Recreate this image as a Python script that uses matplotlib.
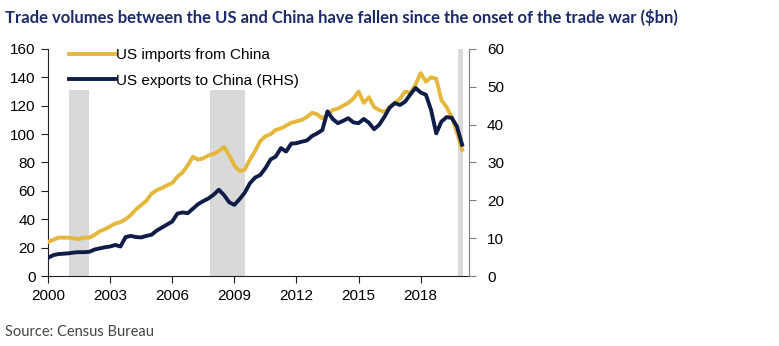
import numpy as np
import matplotlib
matplotlib.use("Agg")
import matplotlib.pyplot as plt

# quarterly, 2000Q1 .. 2020Q1
years = 2000 + np.arange(81) * 0.25

imports = [24, 25.5, 27, 27,
           27, 26.5, 26, 27,
           27, 29, 31.5, 33,
           35, 37, 38, 40,
           43, 47, 50, 53,
           58, 60.5, 62, 64,
           65.5, 70, 73, 78,
           84, 82, 83, 85,
           86, 88, 91, 85,
           78, 74, 75, 82,
           88, 95, 98.5, 100,
           103, 104, 106, 108,
           109, 110, 112, 115,
           114, 111, 114, 117,
           118, 120, 122, 125,
           130, 122, 126, 119,
           117, 115.5, 119, 122,
           125, 130, 129, 135,
           143, 137, 140, 139,
           124, 119, 112, 101,
           89]

exports = [4.8, 5.5, 5.8, 5.9,
           6.0, 6.2, 6.3, 6.3,
           6.4, 7.0, 7.3, 7.6,
           7.8, 8.2, 7.8, 10.3,
           10.6, 10.3, 10.2, 10.6,
           10.9, 12.0, 12.8, 13.6,
           14.4, 16.5, 16.8, 16.6,
           17.8, 19.0, 19.8, 20.5,
           21.5, 22.8, 21.4, 19.5,
           18.8, 20.3, 22.0, 24.5,
           26.0, 26.7, 28.5, 30.8,
           31.6, 33.8, 32.9, 35.0,
           35.1, 35.5, 35.8, 37.0,
           37.7, 38.6, 43.5, 41.5,
           40.4, 41.0, 41.7, 40.6,
           40.4, 41.5, 40.5, 38.8,
           40.0, 42.1, 44.5, 45.7,
           45.2, 46.1, 48.0, 49.7,
           48.5, 47.9, 43.9, 37.7,
           40.8, 42.0, 41.8, 39.5,
           34.7]

# shaded periods (start, end, top on left axis)
shade_start = [2001.0, 2007.8, 2019.8]
shade_end = [2002.0, 2009.5, 2020.05]
shade_top = [131, 131, 160]

gold = "#e5b83c"
navy = "#0e1d48"

plt.rcParams["font.family"] = ["Liberation Sans", "DejaVu Sans"]

fig = plt.figure(figsize=(7.79, 3.46), dpi=100)
ax = fig.add_axes([0.0616, 0.2023, 0.5404, 0.6561])
ax2 = ax.twinx()

for s, e, t in zip(shade_start, shade_end, shade_top):
    ax.axvspan(s, e, ymin=0, ymax=t / 160, color="#d9d9d9", lw=0, zorder=0)

l1, = ax.plot(years, imports, color=gold, lw=2.8, zorder=3, label="US imports from China")
l2, = ax2.plot(years, exports, color=navy, lw=2.8, zorder=3, label="US exports to China (RHS)")

ax.set_xlim(2000, 2020.33)
ax.set_ylim(0, 160)
ax2.set_ylim(0, 60)
ax.set_xticks(range(2000, 2019, 3))
ax.set_yticks(range(0, 161, 20))
ax2.set_yticks(range(0, 61, 10))

for a in (ax, ax2):
    a.spines["top"].set_visible(False)
ax.spines["right"].set_visible(False)
ax2.spines["left"].set_visible(False)
ax2.spines["bottom"].set_visible(False)
ax2.spines["right"].set_color("#808080")
ax.spines["left"].set_color("#222222")
ax.spines["bottom"].set_color("#222222")

ax.tick_params(axis="y", direction="out", length=5, pad=4, labelsize=11, color="#222222")
ax.tick_params(axis="x", direction="out", length=5, pad=4, labelsize=11, color="#222222")
ax2.tick_params(axis="y", direction="out", length=5, pad=8, labelsize=11, color="#808080")

ax.legend(handles=[l1, l2], loc="upper left", bbox_to_anchor=(0.035, 1.03), frameon=False,
          fontsize=11, handlelength=3.0, handletextpad=0.1, labelspacing=0.75, borderaxespad=0)

fig.text(0.006, 0.95, "Trade volumes between the US and China have fallen since the onset of the trade war ($bn)",
         fontsize=12, fontweight="bold", color="#1b2a6b", family=["Lato", "DejaVu Sans"], va="center")
fig.text(0.006, 0.04, "Source: Census Bureau", fontsize=10.5, color="#444444",
         family=["Lato", "DejaVu Sans"], va="center")

fig.savefig("out.png", dpi=100)
